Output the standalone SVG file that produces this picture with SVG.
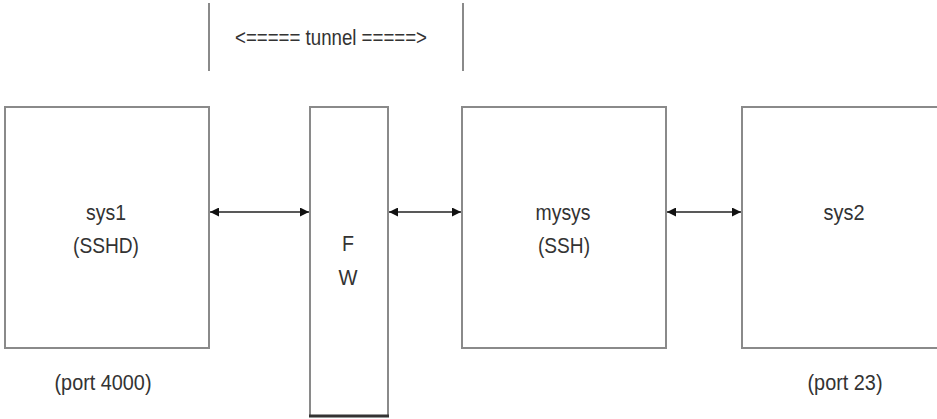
<svg xmlns="http://www.w3.org/2000/svg" width="937" height="419" viewBox="0 0 937 419">
  <defs>
    <marker id="head" viewBox="0 0 10 10" refX="10" refY="5" markerWidth="10" markerHeight="9" markerUnits="userSpaceOnUse" orient="auto-start-reverse">
      <path d="M0,0 L10,5 L0,10 z" fill="#111"/>
    </marker>
  </defs>
  <style>
    .box { fill: #fff; stroke: #8a8a8a; stroke-width: 2; }
    .mark { stroke: #8a8a8a; stroke-width: 2; }
    .link { stroke: #222; stroke-width: 1.5; fill: none; marker-start: url(#head); marker-end: url(#head); }
    .lbl { font-family: "Liberation Sans", Arial, sans-serif; font-size: 22px; fill: #333; text-anchor: middle; }
  </style>
  <rect width="937" height="419" fill="#fff"/>

  <!-- tunnel span markers -->
  <g id="tunnel">
    <line class="mark" x1="209" y1="3" x2="209" y2="71"/>
    <line class="mark" x1="463" y1="3" x2="463" y2="71"/>
    <text class="lbl" x="331" y="45" font-size="18" textLength="192" lengthAdjust="spacingAndGlyphs">&lt;===== tunnel =====&gt;</text>
  </g>

  <!-- labels use a narrowed Liberation Sans via textLength -->
  <g id="sys1">
    <rect class="box" x="5" y="107" width="204" height="241"/>
    <text class="lbl" x="106" y="220" textLength="40" lengthAdjust="spacingAndGlyphs">sys1</text>
    <text class="lbl" x="106" y="253" textLength="66" lengthAdjust="spacingAndGlyphs">(SSHD)</text>
    <text class="lbl" x="103" y="390" textLength="97" lengthAdjust="spacingAndGlyphs">(port 4000)</text>
  </g>

  <g id="fw">
    <rect class="box" x="310" y="107" width="78" height="309"/>
    <line x1="309" y1="416" x2="389" y2="416" stroke="#333" stroke-width="3"/>
    <text class="lbl" x="348" y="251" textLength="12" lengthAdjust="spacingAndGlyphs">F</text>
    <text class="lbl" x="348" y="285" textLength="19" lengthAdjust="spacingAndGlyphs">W</text>
  </g>

  <g id="mysys">
    <rect class="box" x="462" y="107" width="204" height="241"/>
    <text class="lbl" x="563" y="220" textLength="55" lengthAdjust="spacingAndGlyphs">mysys</text>
    <text class="lbl" x="564" y="253" textLength="52" lengthAdjust="spacingAndGlyphs">(SSH)</text>
  </g>

  <g id="sys2">
    <rect class="box" x="742" y="107" width="205" height="241"/>
    <text class="lbl" x="844" y="220" textLength="41" lengthAdjust="spacingAndGlyphs">sys2</text>
    <text class="lbl" x="845" y="390" textLength="75" lengthAdjust="spacingAndGlyphs">(port 23)</text>
  </g>

  <g id="connectors">
    <line class="link" x1="210" y1="212" x2="309" y2="212"/>
    <line class="link" x1="389" y1="212" x2="461" y2="212"/>
    <line class="link" x1="667" y1="212" x2="741" y2="212"/>
  </g>
</svg>
